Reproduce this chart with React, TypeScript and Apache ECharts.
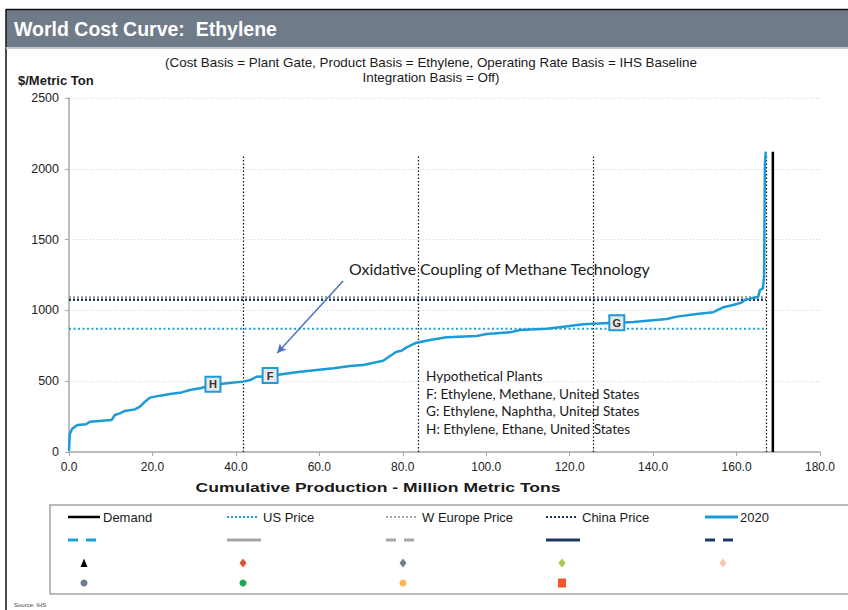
import React, { useEffect, useRef } from "react";
import * as echarts from "echarts";

// Cumulative ethylene capacity (million metric tons) and cash cost ($/metric ton)
const cumulativeProduction = [
  0, 0.2, 0.8, 2.0, 4.1, 5.0, 10.2, 11.0, 12.2, 13.4, 15.8, 17.0, 18.2, 19.4, 21.8, 24.2, 27.0,
  29.0, 31.4, 34.6, 37.8, 41.8, 43.4, 45.0, 48.2, 51.4, 55.4, 59.4, 63.4, 67.4, 70.5, 75.3, 76.5,
  78.5, 79.7, 80.9, 83.3, 86.5, 90.5, 97.7, 100.1, 105.7, 108.1, 114.5, 118.5, 123.3, 128.1,
  131.3, 135.3, 143.3, 145.7, 150.5, 154.4, 156.8, 159.2, 161.2, 162.0, 163.6, 165.2, 165.6,
  166.3, 166.6, 166.8, 167.0,
];
const cashCost = [
  10, 130, 165, 190, 196, 214, 226, 261, 273, 290, 301, 320, 355, 384, 398, 410, 421,
  438, 450, 473, 485, 497, 508, 532, 537, 551, 567, 579, 591, 607, 614, 645, 669,
  708, 715, 739, 772, 791, 810, 819, 833, 845, 862, 871, 885, 902, 909,
  913, 918, 939, 956, 975, 987, 1022, 1038, 1055, 1073, 1085, 1097, 1144,
  1156, 1238, 2039, 2121,
];

// Hypothetical plants placed on the curve
const plantLabels = ["H", "F", "G"];
const plantProduction = [34.5, 48.2, 131.3];
const plantCost = [478, 540, 913];
const plantNotes = [
  "Hypothetical Plants",
  "F: Ethylene, Methane, United States",
  "G: Ethylene, Naphtha, United States",
  "H: Ethylene, Ethane, United States",
];

// Demand and regional prices
const demandVolume = 168.7;
const demandTop = 2120;
const usPrice = 870;
const wEuropePrice = 1095;
const chinaPrice = 1075;
const priceLineEnd = 167.0;

// Quartile markers along the supply axis
const quartileMarks = [41.8, 83.6, 125.6, 167.2];
const quartileTop = 2100;

// Arrow pointing at the methane-coupling plant
const arrowFrom = [65.7, 1208];
const arrowTo = [49.9, 699];

const xMax = 180;
const xStep = 20;
const yMax = 2500;
const yStep = 500;

const FONT = "'Liberation Sans', Arial, sans-serif";
const NOTE_FONT = "Lato, 'Open Sans', sans-serif";
const CURVE = "#1c9bd6";
const NAVY = "#1f3864";
const GREY = "#a6a6a6";

function legendGraphics(): any[] {
  const els: any[] = [];
  const row1 = 517;
  const row2 = 540;
  const row3 = 563;
  const row4 = 583;
  const lineItem = (x1: number, x2: number, y: number, color: string, w: number, dash?: number[]) => ({
    type: "line",
    shape: { x1, y1: y, x2, y2: y },
    style: { stroke: color, lineWidth: w, lineDash: dash },
  });
  const label = (x: number, y: number, text: string) => ({
    type: "text",
    x,
    y,
    style: { text, fill: "#1a1a1a", font: `13px ${FONT}`, textVerticalAlign: "middle" },
  });
  const diamond = (cx: number, cy: number, color: string) => ({
    type: "polygon",
    shape: { points: [[cx, cy - 4.5], [cx + 3.5, cy], [cx, cy + 4.5], [cx - 3.5, cy]] },
    style: { fill: color },
  });

  els.push({
    type: "rect",
    shape: { x: 50, y: 505, width: 830, height: 89 },
    style: { fill: "none", stroke: "#a0a4a8", lineWidth: 1.5 },
  });

  // Row 1: named lines
  els.push(lineItem(68, 100, row1, "#000", 2.5), label(103, row1, "Demand"));
  els.push(lineItem(227, 259, row1, "#1ea0dc", 2, [2, 2]), label(263, row1, "US Price"));
  els.push(lineItem(386, 417, row1, GREY, 2, [2, 2]), label(422, row1, "W Europe Price"));
  els.push(lineItem(546, 578, row1, NAVY, 2, [2, 2]), label(582, row1, "China Price"));
  els.push(lineItem(705, 738, row1, CURVE, 3), label(740, row1, "2020"));

  // Row 2: unlabeled dashed/solid lines
  els.push(lineItem(68, 97, row2, "#1ea0dc", 3, [10, 8]));
  els.push(lineItem(227, 261, row2, GREY, 3));
  els.push(lineItem(386, 415, row2, GREY, 3, [10, 8]));
  els.push(lineItem(546, 580, row2, NAVY, 3));
  els.push(lineItem(705, 735, row2, NAVY, 3, [10, 8]));

  // Row 3: unlabeled markers
  els.push({
    type: "polygon",
    shape: { points: [[84, row3 - 4.5], [87.5, row3 + 4], [80.5, row3 + 4]] },
    style: { fill: "#000" },
  });
  els.push(diamond(243, row3, "#d9552b"));
  els.push(diamond(403, row3, "#6e7d91"));
  els.push(diamond(562, row3, "#a9c94b"));
  els.push(diamond(723, row3, "#f7c4b5"));

  // Row 4
  els.push({ type: "circle", shape: { cx: 84, cy: row4, r: 3.5 }, style: { fill: "#6e7d91" } });
  els.push({ type: "circle", shape: { cx: 243, cy: row4, r: 3.5 }, style: { fill: "#1aab52" } });
  els.push({ type: "circle", shape: { cx: 403, cy: row4, r: 3.5 }, style: { fill: "#fbb84e" } });
  els.push({ type: "rect", shape: { x: 558, y: row4 - 4.5, width: 8, height: 9 }, style: { fill: "#f4562b" } });
  return els;
}

function buildOption(): any {
  const curve = cumulativeProduction.map((x, i) => [x, cashCost[i]]);
  const plants = plantLabels.map((name, i) => ({ value: [plantProduction[i], plantCost[i]], name }));
  const priceLine = (name: string, price: number, color: string, width: number, dash: number[], z: number) => ({
    name,
    type: "line",
    data: [[0, price], [priceLineEnd, price]],
    symbol: "none",
    lineStyle: { color, width, type: dash },
    z,
    silent: true,
  });

  return {
    animation: false,
    backgroundColor: "#ffffff",
    grid: { left: 69, right: 28, top: 98, bottom: 158, containLabel: false },
    xAxis: {
      type: "value",
      min: 0,
      max: xMax,
      interval: xStep,
      axisLine: { show: true, lineStyle: { color: GREY, width: 1.5 } },
      axisTick: { show: true, length: 4, lineStyle: { color: GREY } },
      axisLabel: {
        color: "#222",
        fontFamily: FONT,
        fontSize: 12,
        margin: 9,
        formatter: (v: number) => v.toFixed(1),
      },
      splitLine: { show: false },
    },
    yAxis: {
      type: "value",
      min: 0,
      max: yMax,
      interval: yStep,
      axisLine: { show: true, lineStyle: { color: GREY, width: 1.5 } },
      axisTick: { show: true, length: 4, lineStyle: { color: GREY } },
      axisLabel: {
        color: "#222",
        fontFamily: FONT,
        fontSize: 12.5,
        margin: 10,
        formatter: (v: number) => String(v),
      },
      splitLine: { show: true, lineStyle: { color: "#d4d4d4", width: 1, type: [1, 2] } },
    },
    series: [
      {
        name: "Quartiles",
        type: "line",
        data: [],
        silent: true,
        markLine: {
          silent: true,
          symbol: ["none", "none"],
          label: { show: false },
          lineStyle: { color: "#111", width: 1.2, type: [1.5, 2] },
          data: quartileMarks.map((x) => [{ coord: [x, 0] }, { coord: [x, quartileTop] }]),
        },
        z: 1,
      },
      priceLine("US Price", usPrice, "#1ea0dc", 2, [2, 2.5], 2),
      priceLine("W Europe Price", wEuropePrice, "#9fa3a8", 2, [2, 2], 2),
      priceLine("China Price", chinaPrice, NAVY, 2.5, [2, 2], 3),
      {
        name: "Demand",
        type: "line",
        data: [[demandVolume, 0], [demandVolume, demandTop]],
        symbol: "none",
        lineStyle: { color: "#000", width: 2.5 },
        z: 4,
      },
      {
        name: "2020",
        type: "line",
        data: curve,
        symbol: "none",
        lineStyle: { color: CURVE, width: 2.5 },
        z: 5,
      },
      {
        name: "Plants",
        type: "scatter",
        data: plants,
        symbol: "rect",
        symbolSize: 15,
        itemStyle: { color: "#e8e8e8", borderColor: CURVE, borderWidth: 2, opacity: 1 },
        label: {
          show: true,
          position: "inside",
          formatter: (p: any) => p.name,
          color: "#333",
          fontWeight: "bold",
          fontSize: 11,
          fontFamily: FONT,
        },
        z: 6,
      },
      {
        name: "Arrow",
        type: "line",
        data: [],
        silent: true,
        markLine: {
          silent: true,
          symbol: ["none", "arrow"],
          symbolSize: [7, 9],
          label: { show: false },
          lineStyle: { color: "#4a72c0", width: 1.5, type: "solid" },
          data: [[{ coord: arrowFrom }, { coord: arrowTo }]],
        },
        z: 7,
      },
    ],
    graphic: [
      // frame and title bar
      { type: "rect", shape: { x: 6, y: 10, width: 842, height: 37 }, style: { fill: "#6f7b89" } },
      { type: "line", shape: { x1: 6, y1: 9.5, x2: 848, y2: 9.5 }, style: { stroke: "#111", lineWidth: 1.5 } },
      { type: "line", shape: { x1: 6, y1: 9, x2: 6, y2: 610 }, style: { stroke: "#111", lineWidth: 1.5 } },
      { type: "line", shape: { x1: 6, y1: 48, x2: 848, y2: 48 }, style: { stroke: "#c3c8ce", lineWidth: 2 } },
      {
        type: "text",
        x: 14,
        y: 28.5,
        style: {
          text: "World Cost Curve:\u00a0 Ethylene",
          fill: "#ffffff",
          font: `bold 19.5px ${FONT}`,
          textVerticalAlign: "middle",
        },
      },
      {
        type: "text",
        x: 431,
        y: 62,
        style: {
          text: "(Cost Basis = Plant Gate, Product Basis = Ethylene, Operating Rate Basis = IHS Baseline",
          fill: "#1a1a1a",
          font: `13.4px ${FONT}`,
          textAlign: "center",
          textVerticalAlign: "middle",
        },
      },
      {
        type: "text",
        x: 431,
        y: 77,
        style: {
          text: "Integration Basis = Off)",
          fill: "#1a1a1a",
          font: `13.4px ${FONT}`,
          textAlign: "center",
          textVerticalAlign: "middle",
        },
      },
      {
        type: "text",
        x: 18,
        y: 80,
        style: { text: "$/Metric Ton", fill: "#1a1a1a", font: `bold 13px ${FONT}`, textVerticalAlign: "middle" },
      },
      {
        type: "text",
        x: 378,
        y: 487,
        scaleX: 1.3,
        originX: 0,
        originY: 0,
        style: {
          text: "Cumulative Production - Million Metric Tons",
          fill: "#1a1a1a",
          font: `bold 13.5px ${FONT}`,
          textAlign: "center",
          textVerticalAlign: "middle",
        },
      },
      {
        type: "text",
        x: 349,
        y: 268,
        style: {
          text: "Oxidative Coupling of Methane Technology",
          fill: "#1a1a1a",
          font: `15.9px ${NOTE_FONT}`,
          textVerticalAlign: "middle",
        },
      },
      ...plantNotes.map((t, i) => ({
        type: "text",
        x: 426,
        y: 376 + i * 17.7,
        style: { text: t, fill: "#1a1a1a", font: `13.6px ${NOTE_FONT}`, textVerticalAlign: "middle" },
      })),
      ...legendGraphics(),
      {
        type: "text",
        x: 14,
        y: 605,
        style: { text: "Source: IHS", fill: "#444", font: `6px ${FONT}`, textVerticalAlign: "middle" },
      },
    ],
  };
}

export default function App() {
  const ref = useRef<HTMLDivElement>(null);
  useEffect(() => {
    document.body.style.margin = "0";
    if (!ref.current) return;
    const chart = echarts.init(ref.current, undefined, { renderer: "svg" });
    chart.setOption(buildOption());
    return () => chart.dispose();
  }, []);
  return <div ref={ref} style={{ width: 848, height: 610 }} />;
}
